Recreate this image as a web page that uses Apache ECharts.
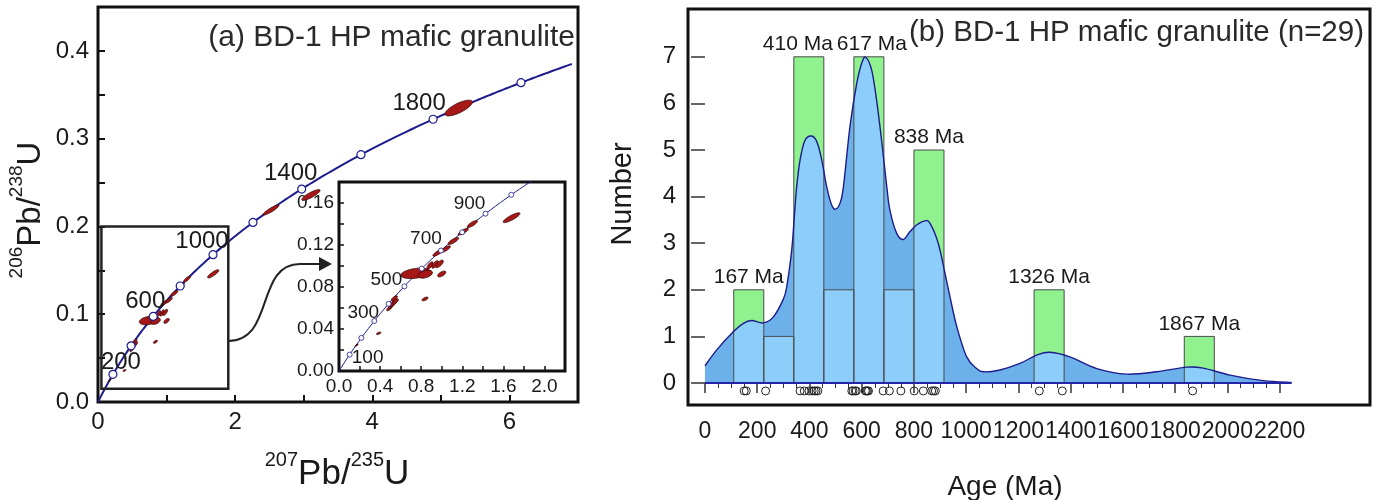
<!DOCTYPE html>
<html>
<head>
<meta charset="utf-8">
<script src="https://cdn.jsdelivr.net/npm/echarts@6/dist/echarts.min.js"></script>
<style>
  html, body { margin: 0; padding: 0; background: #fff; }
  #chart { width: 1382px; height: 500px; }
</style>
</head>
<body>
<div id="chart"></div>
<script>
// ================= Panel (a): U-Pb concordia =================
// Decay constants (per Ma) used to trace the Wetherill concordia
const LAMBDA_238 = 1.55125e-4;
const LAMBDA_235 = 9.8485e-4;

const concordiaTickAgesMain  = [200, 400, 600, 800, 1000, 1200, 1400, 1600, 1800, 2000];
const concordiaLabelAgesMain = [200, 600, 1000, 1400, 1800];
const concordiaTickAgesInset  = [100, 200, 300, 400, 500, 600, 700, 800, 900, 1000];
const concordiaLabelAgesInset = [100, 300, 500, 700, 900];

// Analysis error ellipses: centre (207Pb/235U, 206Pb/238U), half extents, error correlation
const ellX   = [0.165, 0.178, 0.386, 0.490, 0.512, 0.529, 0.548, 0.539, 0.837, 0.745, 0.840, 1.000, 0.885, 0.935, 0.978, 0.962, 1.036, 1.113, 1.210, 1.298, 1.680, 2.522, 3.105, 5.260];
const ellY   = [0.0240, 0.0252, 0.0359, 0.0597, 0.0625, 0.0645, 0.0662, 0.0692, 0.0686, 0.0930, 0.0922, 0.0924, 0.1005, 0.1015, 0.1020, 0.1125, 0.1160, 0.1238, 0.1327, 0.1400, 0.1460, 0.2187, 0.2358, 0.3349];
const ellDX  = [0.010, 0.009, 0.022, 0.026, 0.030, 0.034, 0.030, 0.030, 0.030, 0.143, 0.070, 0.040, 0.030, 0.032, 0.038, 0.048, 0.048, 0.052, 0.050, 0.050, 0.082, 0.117, 0.134, 0.200];
const ellDY  = [0.0008, 0.0007, 0.0012, 0.0024, 0.0028, 0.0030, 0.0026, 0.0025, 0.0018, 0.0050, 0.0038, 0.0028, 0.0036, 0.0036, 0.0036, 0.0032, 0.0032, 0.0034, 0.0032, 0.0034, 0.0047, 0.0058, 0.0062, 0.0090];
const ellRho = [0.7, 0.7, 0.6, 0.7, 0.7, 0.7, 0.7, 0.7, 0.6, 0.35, 0.4, 0.6, 0.7, 0.7, 0.7, 0.8, 0.8, 0.8, 0.8, 0.8, 0.85, 0.9, 0.85, 0.75];

// Outline of the enlarged window, [x0, y0, x1, y1]
const insetWindow = [0.05, 0.015, 1.9, 0.2];

const mainXLabels  = [0, 2, 4, 6];
const mainYLabels  = [0, 0.1, 0.2, 0.3, 0.4];
const insetXLabels = [0, 0.4, 0.8, 1.2, 1.6, 2.0];
const insetYLabels = [0, 0.04, 0.08, 0.12, 0.16];

// ================= Panel (b): age histogram + density =================
const binWidthMa = 115;
const binStartMa = [110, 225, 340, 455, 570, 685, 800, 1260, 1835];
const binCount   = [2, 1, 7, 2, 7, 2, 5, 2, 1];
const binPeak    = ['167 Ma', '', '410 Ma', '', '617 Ma', '', '838 Ma', '1326 Ma', '1867 Ma'];

const kdeAgeMa = [0, 45, 108, 147, 179, 223, 262, 300, 313, 332, 342, 351, 364, 383, 408, 428, 447, 466, 485, 500, 517, 530, 555, 581, 600, 615, 638, 657, 676, 696, 708, 734, 759, 785, 810, 842, 861, 893, 919, 938, 964, 1002, 1040, 1066, 1129, 1206, 1270, 1321, 1397, 1500, 1614, 1729, 1844, 1908, 2010, 2137, 2246];
const kdeValue = [0.37, 0.71, 1.10, 1.28, 1.34, 1.29, 1.42, 1.80, 2.07, 2.85, 3.57, 4.21, 4.79, 5.21, 5.30, 5.18, 4.79, 4.21, 3.82, 3.73, 3.86, 4.21, 5.50, 6.43, 6.86, 6.99, 6.72, 6.07, 5.21, 4.21, 3.71, 3.21, 3.08, 3.25, 3.39, 3.48, 3.43, 3.00, 2.35, 1.85, 1.21, 0.56, 0.31, 0.24, 0.28, 0.42, 0.60, 0.66, 0.56, 0.31, 0.19, 0.24, 0.34, 0.32, 0.17, 0.05, 0.01];

const grainAgeMa = [150, 158, 232, 364, 380, 398, 410, 418, 425, 432, 562, 567, 575, 579, 614, 618, 622, 626, 682, 706, 750, 801, 836, 868, 875, 882, 1280, 1368, 1867];

const countLabels = [0, 1, 2, 3, 4, 5, 6, 7];
const ageLabels = [0, 200, 400, 600, 800, 1000, 1200, 1400, 1600, 1800, 2000, 2200];

// ================= Styling =================
const FONT = "'Liberation Sans', Arial, Helvetica, sans-serif";
const INK = '#1a1a1a';
const NAVY = '#1c1c8c';
const ELLIPSE_FILL = '#a61818';
const GREEN = '#8ff28f';
const BLUE_KDE = '#6cb1e9';
const BLUE_LIGHT = '#8ccdf9';

const mainLabelOffset  = { 200: [8, -12], 600: [-8, -15], 1000: [-11, -13], 1400: [-11, -16], 1800: [-14, -16] };
const insetLabelOffset = { 100: [18, 3], 300: [-11, -8], 500: [-18, -7], 700: [-15, -12], 900: [-16, -10] };
const peakLabelShift = { '410 Ma': -11, '617 Ma': 3 };

function concordia(tMa) {
  return [Math.expm1(LAMBDA_235 * tMa), Math.expm1(LAMBDA_238 * tMa)];
}
// Concordia trace, sampled every 5 Ma
const concordiaTrace = [];
for (let t = 0; t <= 2100; t += 5) concordiaTrace.push(concordia(t));

const ellipseData = ellX.map((x, i) => [x, ellY[i], ellDX[i], ellDY[i], ellRho[i]]);

function renderEllipse(params, api) {
  const cx = api.value(0), cy = api.value(1), dx = api.value(2), dy = api.value(3), r = api.value(4);
  const s = Math.sqrt(1 - r * r);
  const pts = [];
  for (let k = 0; k < 48; k++) {
    const th = 2 * Math.PI * k / 48;
    pts.push(api.coord([cx + dx * Math.cos(th), cy + dy * (r * Math.cos(th) + s * Math.sin(th))]));
  }
  return { type: 'polygon', shape: { points: pts }, style: { fill: ELLIPSE_FILL, stroke: '#2a0000', lineWidth: 0.7 } };
}

function tickScatter(ages, xi, size, bw) {
  return {
    type: 'scatter', xAxisIndex: xi, yAxisIndex: xi, z: 5,
    data: ages.map(concordia), symbol: 'circle', symbolSize: size,
    itemStyle: { color: '#fff', borderColor: NAVY, borderWidth: bw, opacity: 1 },
    silent: true
  };
}
function labelScatter(ages, xi, offsets, fs) {
  return {
    type: 'scatter', xAxisIndex: xi, yAxisIndex: xi, z: 6, symbolSize: 0,
    data: ages.map(t => ({ name: String(t), value: concordia(t), label: { offset: offsets[t] } })),
    itemStyle: { opacity: 1 },
    label: { show: true, position: 'inside', formatter: '{b}', fontSize: fs, fontFamily: FONT, color: INK },
    silent: true
  };
}

// ---- density curve helpers (pixel space) ----
function kdePixels(api) { return kdeAgeMa.map((a, i) => api.coord([a, kdeValue[i]])); }
function smoothSegments(pts) {
  let d = '';
  for (let i = 0; i < pts.length - 1; i++) {
    const p0 = pts[i - 1] || pts[i], p1 = pts[i], p2 = pts[i + 1], p3 = pts[i + 2] || pts[i + 1];
    const c1 = [p1[0] + (p2[0] - p0[0]) / 6, p1[1] + (p2[1] - p0[1]) / 6];
    const c2 = [p2[0] - (p3[0] - p1[0]) / 6, p2[1] - (p3[1] - p1[1]) / 6];
    d += ' C' + c1[0] + ',' + c1[1] + ' ' + c2[0] + ',' + c2[1] + ' ' + p2[0] + ',' + p2[1];
  }
  return d;
}
function kdeAreaPath(api) {
  const pts = kdePixels(api);
  const b0 = api.coord([kdeAgeMa[0], 0]);
  const b1 = api.coord([kdeAgeMa[kdeAgeMa.length - 1], 0]);
  return 'M' + b0[0] + ',' + b0[1] + ' L' + pts[0][0] + ',' + pts[0][1] + smoothSegments(pts) +
         ' L' + b1[0] + ',' + b1[1] + ' Z';
}
function kdeLinePath(api) {
  const pts = kdePixels(api);
  return 'M' + pts[0][0] + ',' + pts[0][1] + smoothSegments(pts);
}
function binRect(api) {
  const s = api.value(0), c = api.value(1);
  const p0 = api.coord([s, c]), p1 = api.coord([s + binWidthMa, 0]);
  return { x: p0[0], y: p0[1], width: p1[0] - p0[0], height: p1[1] - p0[1] };
}
const binData = binStartMa.map((s, i) => [s, binCount[i]]);

const axisTickStyle = { color: '#111', width: 2 };

const option = {
  animation: false,
  textStyle: { fontFamily: FONT },
  grid: [
    { left: 98, top: 7, width: 480, height: 395, show: true, borderColor: '#111', borderWidth: 3, backgroundColor: '#fff' },
    { left: 339, top: 182, width: 226, height: 189, show: true, borderColor: '#111', borderWidth: 3, backgroundColor: '#fff' },
    { left: 705, top: 10.2, width: 574.6, height: 372.8 }
  ],
  xAxis: [
    { gridIndex: 0, type: 'value', min: 0, max: 7, interval: 1,
      axisLine: { show: false }, splitLine: { show: false },
      axisTick: { inside: true, length: 7, lineStyle: axisTickStyle },
      axisLabel: { customValues: mainXLabels, fontSize: 24, color: INK, margin: 8 } },
    { gridIndex: 1, type: 'value', min: 0, max: 2.2, interval: 0.2,
      axisLine: { show: false }, splitLine: { show: false },
      axisTick: { inside: true, length: 5, lineStyle: { color: '#111', width: 1.5 } },
      axisLabel: { customValues: insetXLabels, fontSize: 19, color: INK, margin: 6, formatter: v => v.toFixed(1) } },
    { gridIndex: 2, type: 'value', min: 0, max: 2200, interval: 200, offset: 27,
      axisLine: { show: false }, splitLine: { show: false },
      axisTick: { show: true, length: 10, lineStyle: { color: '#333', width: 1.5 } },
      minorTick: { show: true, splitNumber: 4, length: 5, lineStyle: { color: '#333', width: 1 } },
      axisLabel: { customValues: ageLabels, showMinLabel: true, showMaxLabel: true, hideOverlap: false,
                   fontSize: 23, color: INK, margin: 10, formatter: v => String(v) } }
  ],
  yAxis: [
    { gridIndex: 0, type: 'value', min: 0, max: 0.45, interval: 0.05,
      axisLine: { show: false }, splitLine: { show: false },
      axisTick: { inside: true, length: 7, lineStyle: axisTickStyle },
      axisLabel: { customValues: mainYLabels, fontSize: 24, color: INK, margin: 9, formatter: v => v.toFixed(1) } },
    { gridIndex: 1, type: 'value', min: 0, max: 0.18, interval: 0.02,
      axisLine: { show: false }, splitLine: { show: false },
      axisTick: { inside: true, length: 5, lineStyle: { color: '#111', width: 1.5 } },
      axisLabel: { customValues: insetYLabels, fontSize: 19, color: INK, margin: 5, formatter: v => v.toFixed(2) } },
    { gridIndex: 2, type: 'value', min: 0, max: 8, interval: 1, offset: 17,
      axisLine: { show: false }, splitLine: { show: false },
      axisTick: { customValues: countLabels, length: 14, lineStyle: { color: '#333', width: 1.5 } },
      axisLabel: { customValues: countLabels, fontSize: 24, color: INK, margin: 12 } }
  ],
  series: [
    // ---- (a) main diagram ----
    { type: 'line', xAxisIndex: 0, yAxisIndex: 0, data: concordiaTrace, showSymbol: false, z: 2,
      lineStyle: { color: NAVY, width: 2 }, clip: true, silent: true },
    { type: 'custom', xAxisIndex: 0, yAxisIndex: 0, z: 3, data: ellipseData, renderItem: renderEllipse, silent: true },
    { type: 'custom', xAxisIndex: 0, yAxisIndex: 0, z: 3, data: [insetWindow], silent: true,
      renderItem: (params, api) => {
        const a = api.coord([api.value(0), api.value(3)]), b = api.coord([api.value(2), api.value(1)]);
        return { type: 'rect', shape: { x: a[0], y: a[1], width: b[0] - a[0], height: b[1] - a[1] },
                 style: { fill: 'none', stroke: '#222', lineWidth: 2.5 } };
      } },
    tickScatter(concordiaTickAgesMain, 0, 8, 1.2),
    labelScatter(concordiaLabelAgesMain, 0, mainLabelOffset, 24),

    // ---- (a) inset ----
    { type: 'line', xAxisIndex: 1, yAxisIndex: 1, data: concordiaTrace.filter(p => p[0] <= 2.3), showSymbol: false, z: 2,
      lineStyle: { color: NAVY, width: 1 }, clip: true, silent: true },
    { type: 'custom', xAxisIndex: 1, yAxisIndex: 1, z: 3, clip: true,
      data: ellipseData.filter(d => d[0] < 2.2), renderItem: renderEllipse, silent: true },
    tickScatter(concordiaTickAgesInset, 1, 5, 0.8),
    labelScatter(concordiaLabelAgesInset, 1, insetLabelOffset, 19),

    // ---- (b) histogram bars ----
    { type: 'custom', xAxisIndex: 2, yAxisIndex: 2, z: 2, data: binData, silent: true,
      renderItem: (params, api) => ({ type: 'rect', shape: binRect(api), style: { fill: GREEN } }) },
    // density area
    { type: 'custom', xAxisIndex: 2, yAxisIndex: 2, z: 3, data: [[0, 0]], silent: true,
      renderItem: (params, api) => ({ type: 'path', shape: { pathData: kdeAreaPath(api) }, style: { fill: BLUE_KDE } }) },
    // part of each bar lying under the density curve
    { type: 'custom', xAxisIndex: 2, yAxisIndex: 2, z: 4, data: binData, silent: true,
      renderItem: (params, api) => ({
        type: 'path', shape: { pathData: kdeAreaPath(api) }, style: { fill: BLUE_LIGHT },
        clipPath: { type: 'rect', shape: binRect(api) }
      }) },
    // bar outlines and peak labels
    { type: 'custom', xAxisIndex: 2, yAxisIndex: 2, z: 5, data: binData, silent: true,
      renderItem: (params, api) => {
        const r = binRect(api);
        const txt = binPeak[params.dataIndex];
        const children = [{ type: 'rect', shape: r, style: { fill: 'none', stroke: '#4a4a4a', lineWidth: 1 } }];
        if (txt) {
          children.push({ type: 'text', x: r.x + r.width / 2 + (peakLabelShift[txt] || 0), y: r.y - 2,
            style: { text: txt, align: 'center', verticalAlign: 'bottom', fontSize: 21, fontFamily: FONT, fill: INK } });
        }
        return { type: 'group', children };
      } },
    // density outline and baseline
    { type: 'custom', xAxisIndex: 2, yAxisIndex: 2, z: 6, data: [[0, 0]], silent: true,
      renderItem: (params, api) => {
        const b0 = api.coord([kdeAgeMa[0], 0]), b1 = api.coord([kdeAgeMa[kdeAgeMa.length - 1], 0]);
        return { type: 'group', children: [
          { type: 'path', shape: { pathData: kdeLinePath(api) }, style: { fill: 'none', stroke: NAVY, lineWidth: 1.4 } },
          { type: 'line', shape: { x1: b0[0], y1: b0[1], x2: b1[0], y2: b1[1] }, style: { stroke: '#2424a8', lineWidth: 2 } }
        ] };
      } },
    // individual grain ages
    { type: 'scatter', xAxisIndex: 2, yAxisIndex: 2, z: 6, clip: false, silent: true,
      data: grainAgeMa.map(a => [a, -0.17]), symbol: 'circle', symbolSize: 8,
      itemStyle: { color: 'rgba(255,255,255,0)', borderColor: '#222', borderWidth: 1, opacity: 1 } }
  ],
  graphic: [
    // frame of panel (b)
    { type: 'rect', silent: true, z: 10, shape: { x: 688, y: 9, width: 682, height: 396 },
      style: { fill: 'none', stroke: '#111', lineWidth: 3 } },
    // arrow from the window to the inset
    { type: 'bezierCurve', silent: true, z: 10,
      shape: { x1: 228, y1: 341, cpx1: 275, cpy1: 341, cpx2: 255, cpy2: 264, x2: 300, y2: 264 },
      style: { fill: 'none', stroke: '#222', lineWidth: 2 } },
    { type: 'line', silent: true, z: 10, shape: { x1: 299, y1: 264, x2: 322, y2: 264 }, style: { stroke: '#222', lineWidth: 2 } },
    { type: 'polygon', silent: true, z: 10, shape: { points: [[319, 257], [332, 264], [319, 271]] }, style: { fill: '#222' } },
    // titles
    { type: 'text', silent: true, z: 10, x: 575, y: 38,
      style: { text: '(a) BD-1 HP mafic granulite', fontSize: 30, fontFamily: FONT, fill: '#2a2a2a', align: 'right', verticalAlign: 'middle' } },
    { type: 'text', silent: true, z: 10, x: 1364, y: 33,
      style: { text: '(b) BD-1 HP mafic granulite (n=29)', fontSize: 29.5, fontFamily: FONT, fill: '#2a2a2a', align: 'right', verticalAlign: 'middle' } },
    // axis titles
    { type: 'text', silent: true, z: 10, x: 27, y: 210, rotation: Math.PI / 2,
      style: { text: '{s|206}{m|Pb/}{s|238}{m|U}', align: 'center', verticalAlign: 'middle',
        rich: { m: { fontSize: 33, lineHeight: 40, verticalAlign: 'bottom', fontFamily: FONT, fill: INK },
                s: { fontSize: 19, lineHeight: 22, verticalAlign: 'top', fontFamily: FONT, fill: INK } } } },
    { type: 'text', silent: true, z: 10, x: 337, y: 471,
      style: { text: '{s|207}{m|Pb/}{s|235}{m|U}', align: 'center', verticalAlign: 'middle',
        rich: { m: { fontSize: 35, lineHeight: 42, verticalAlign: 'bottom', fontFamily: FONT, fill: INK },
                s: { fontSize: 20, lineHeight: 22, verticalAlign: 'top', fontFamily: FONT, fill: INK } } } },
    { type: 'text', silent: true, z: 10, x: 623, y: 194, rotation: Math.PI / 2,
      style: { text: 'Number', fontSize: 29, fontFamily: FONT, fill: INK, align: 'center', verticalAlign: 'middle' } },
    { type: 'text', silent: true, z: 10, x: 1005, y: 487,
      style: { text: 'Age (Ma)', fontSize: 28, fontFamily: FONT, fill: INK, align: 'center', verticalAlign: 'middle' } }
  ]
};

const chart = echarts.init(document.getElementById('chart'), null, { renderer: 'canvas' });
chart.setOption(option);
</script>
</body>
</html>
